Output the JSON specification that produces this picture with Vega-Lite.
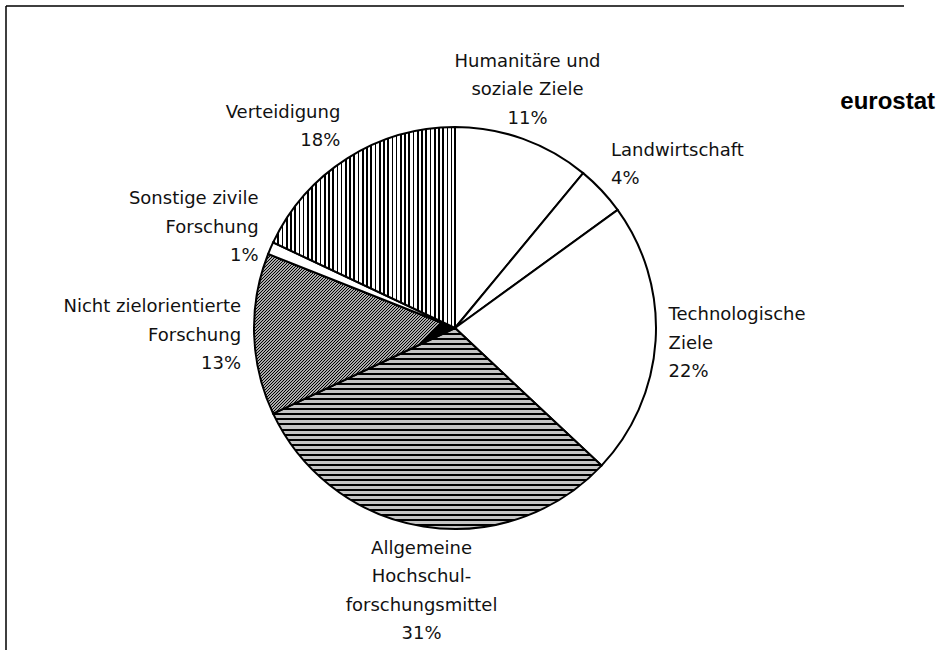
{
  "$schema": "https://vega.github.io/schema/vega-lite/v6.json",
  "width": 898,
  "height": 644,
  "autosize": "none",
  "padding": {"left": 6, "top": 6, "right": 40, "bottom": 13},
  "background": "#ffffff",
  "view": {"stroke": "#000000", "strokeWidth": 1.5, "strokeDash": [898, 1542, 644, 0]},
  "title": {
    "text": "eurostat",
    "anchor": "end",
    "frame": "group",
    "orient": "top",
    "offset": -127,
    "baseline": "alphabetic",
    "dx": 31,
    "font": "Liberation Sans",
    "fontSize": 24,
    "fontWeight": "bold",
    "color": "#000000"
  },
  "data": {
    "values": [
      {"Nr": 1, "Ziel": "Humanitäre und soziale Ziele", "Anteil": 11, "Beschriftung": "Humanitäre und\nsoziale Ziele\n11%"},
      {"Nr": 2, "Ziel": "Landwirtschaft", "Anteil": 4, "Beschriftung": "Landwirtschaft\n4%"},
      {"Nr": 3, "Ziel": "Technologische Ziele", "Anteil": 22, "Beschriftung": "Technologische\nZiele\n22%"},
      {"Nr": 4, "Ziel": "Allgemeine Hochschulforschungsmittel", "Anteil": 31, "Beschriftung": "Allgemeine\nHochschul-\nforschungsmittel\n31%"},
      {"Nr": 5, "Ziel": "Nicht zielorientierte Forschung", "Anteil": 13, "Beschriftung": "Nicht zielorientierte\nForschung\n13%"},
      {"Nr": 6, "Ziel": "Sonstige zivile Forschung", "Anteil": 1, "Beschriftung": "Sonstige zivile\nForschung\n1%"},
      {"Nr": 7, "Ziel": "Verteidigung", "Anteil": 18, "Beschriftung": "Verteidigung\n18%"}
    ]
  },
  "encoding": {
    "theta": {"field": "Anteil", "type": "quantitative", "stack": true},
    "order": {"field": "Nr", "type": "quantitative"}
  },
  "layer": [
    {
      "mark": {"type": "arc", "outerRadius": 201, "stroke": "#000000", "strokeWidth": 2},
      "encoding": {
        "fill": {
          "condition": [
            {"test": "datum.Ziel === 'Verteidigung'", "value": {"gradient": "linear", "x1": 0, "y1": 0, "x2": 1, "y2": 0, "stops": [
              {"offset": 0, "color": "#000"}, {"offset": 0.0093, "color": "#000"}, {"offset": 0.0093, "color": "#fff"}, {"offset": 0.02326, "color": "#fff"},
              {"offset": 0.02326, "color": "#000"}, {"offset": 0.03256, "color": "#000"}, {"offset": 0.03256, "color": "#fff"}, {"offset": 0.04651, "color": "#fff"},
              {"offset": 0.04651, "color": "#000"}, {"offset": 0.05581, "color": "#000"}, {"offset": 0.05581, "color": "#fff"}, {"offset": 0.06977, "color": "#fff"},
              {"offset": 0.06977, "color": "#000"}, {"offset": 0.07907, "color": "#000"}, {"offset": 0.07907, "color": "#fff"}, {"offset": 0.09302, "color": "#fff"},
              {"offset": 0.09302, "color": "#000"}, {"offset": 0.10232, "color": "#000"}, {"offset": 0.10232, "color": "#fff"}, {"offset": 0.11628, "color": "#fff"},
              {"offset": 0.11628, "color": "#000"}, {"offset": 0.12558, "color": "#000"}, {"offset": 0.12558, "color": "#fff"}, {"offset": 0.13953, "color": "#fff"},
              {"offset": 0.13953, "color": "#000"}, {"offset": 0.14883, "color": "#000"}, {"offset": 0.14883, "color": "#fff"}, {"offset": 0.16279, "color": "#fff"},
              {"offset": 0.16279, "color": "#000"}, {"offset": 0.17209, "color": "#000"}, {"offset": 0.17209, "color": "#fff"}, {"offset": 0.18605, "color": "#fff"},
              {"offset": 0.18605, "color": "#000"}, {"offset": 0.19535, "color": "#000"}, {"offset": 0.19535, "color": "#fff"}, {"offset": 0.2093, "color": "#fff"},
              {"offset": 0.2093, "color": "#000"}, {"offset": 0.2186, "color": "#000"}, {"offset": 0.2186, "color": "#fff"}, {"offset": 0.23256, "color": "#fff"},
              {"offset": 0.23256, "color": "#000"}, {"offset": 0.24186, "color": "#000"}, {"offset": 0.24186, "color": "#fff"}, {"offset": 0.25581, "color": "#fff"},
              {"offset": 0.25581, "color": "#000"}, {"offset": 0.26511, "color": "#000"}, {"offset": 0.26511, "color": "#fff"}, {"offset": 0.27907, "color": "#fff"},
              {"offset": 0.27907, "color": "#000"}, {"offset": 0.28837, "color": "#000"}, {"offset": 0.28837, "color": "#fff"}, {"offset": 0.30233, "color": "#fff"},
              {"offset": 0.30233, "color": "#000"}, {"offset": 0.31163, "color": "#000"}, {"offset": 0.31163, "color": "#fff"}, {"offset": 0.32558, "color": "#fff"},
              {"offset": 0.32558, "color": "#000"}, {"offset": 0.33488, "color": "#000"}, {"offset": 0.33488, "color": "#fff"}, {"offset": 0.34884, "color": "#fff"},
              {"offset": 0.34884, "color": "#000"}, {"offset": 0.35814, "color": "#000"}, {"offset": 0.35814, "color": "#fff"}, {"offset": 0.37209, "color": "#fff"},
              {"offset": 0.37209, "color": "#000"}, {"offset": 0.38139, "color": "#000"}, {"offset": 0.38139, "color": "#fff"}, {"offset": 0.39535, "color": "#fff"},
              {"offset": 0.39535, "color": "#000"}, {"offset": 0.40465, "color": "#000"}, {"offset": 0.40465, "color": "#fff"}, {"offset": 0.4186, "color": "#fff"},
              {"offset": 0.4186, "color": "#000"}, {"offset": 0.4279, "color": "#000"}, {"offset": 0.4279, "color": "#fff"}, {"offset": 0.44186, "color": "#fff"},
              {"offset": 0.44186, "color": "#000"}, {"offset": 0.45116, "color": "#000"}, {"offset": 0.45116, "color": "#fff"}, {"offset": 0.46512, "color": "#fff"},
              {"offset": 0.46512, "color": "#000"}, {"offset": 0.47442, "color": "#000"}, {"offset": 0.47442, "color": "#fff"}, {"offset": 0.48837, "color": "#fff"},
              {"offset": 0.48837, "color": "#000"}, {"offset": 0.49767, "color": "#000"}, {"offset": 0.49767, "color": "#fff"}, {"offset": 0.51163, "color": "#fff"},
              {"offset": 0.51163, "color": "#000"}, {"offset": 0.52093, "color": "#000"}, {"offset": 0.52093, "color": "#fff"}, {"offset": 0.53488, "color": "#fff"},
              {"offset": 0.53488, "color": "#000"}, {"offset": 0.54418, "color": "#000"}, {"offset": 0.54418, "color": "#fff"}, {"offset": 0.55814, "color": "#fff"},
              {"offset": 0.55814, "color": "#000"}, {"offset": 0.56744, "color": "#000"}, {"offset": 0.56744, "color": "#fff"}, {"offset": 0.5814, "color": "#fff"},
              {"offset": 0.5814, "color": "#000"}, {"offset": 0.5907, "color": "#000"}, {"offset": 0.5907, "color": "#fff"}, {"offset": 0.60465, "color": "#fff"},
              {"offset": 0.60465, "color": "#000"}, {"offset": 0.61395, "color": "#000"}, {"offset": 0.61395, "color": "#fff"}, {"offset": 0.62791, "color": "#fff"},
              {"offset": 0.62791, "color": "#000"}, {"offset": 0.63721, "color": "#000"}, {"offset": 0.63721, "color": "#fff"}, {"offset": 0.65116, "color": "#fff"},
              {"offset": 0.65116, "color": "#000"}, {"offset": 0.66046, "color": "#000"}, {"offset": 0.66046, "color": "#fff"}, {"offset": 0.67442, "color": "#fff"},
              {"offset": 0.67442, "color": "#000"}, {"offset": 0.68372, "color": "#000"}, {"offset": 0.68372, "color": "#fff"}, {"offset": 0.69767, "color": "#fff"},
              {"offset": 0.69767, "color": "#000"}, {"offset": 0.70697, "color": "#000"}, {"offset": 0.70697, "color": "#fff"}, {"offset": 0.72093, "color": "#fff"},
              {"offset": 0.72093, "color": "#000"}, {"offset": 0.73023, "color": "#000"}, {"offset": 0.73023, "color": "#fff"}, {"offset": 0.74419, "color": "#fff"},
              {"offset": 0.74419, "color": "#000"}, {"offset": 0.75349, "color": "#000"}, {"offset": 0.75349, "color": "#fff"}, {"offset": 0.76744, "color": "#fff"},
              {"offset": 0.76744, "color": "#000"}, {"offset": 0.77674, "color": "#000"}, {"offset": 0.77674, "color": "#fff"}, {"offset": 0.7907, "color": "#fff"},
              {"offset": 0.7907, "color": "#000"}, {"offset": 0.8, "color": "#000"}, {"offset": 0.8, "color": "#fff"}, {"offset": 0.81395, "color": "#fff"},
              {"offset": 0.81395, "color": "#000"}, {"offset": 0.82325, "color": "#000"}, {"offset": 0.82325, "color": "#fff"}, {"offset": 0.83721, "color": "#fff"},
              {"offset": 0.83721, "color": "#000"}, {"offset": 0.84651, "color": "#000"}, {"offset": 0.84651, "color": "#fff"}, {"offset": 0.86047, "color": "#fff"},
              {"offset": 0.86047, "color": "#000"}, {"offset": 0.86977, "color": "#000"}, {"offset": 0.86977, "color": "#fff"}, {"offset": 0.88372, "color": "#fff"},
              {"offset": 0.88372, "color": "#000"}, {"offset": 0.89302, "color": "#000"}, {"offset": 0.89302, "color": "#fff"}, {"offset": 0.90698, "color": "#fff"},
              {"offset": 0.90698, "color": "#000"}, {"offset": 0.91628, "color": "#000"}, {"offset": 0.91628, "color": "#fff"}, {"offset": 0.93023, "color": "#fff"},
              {"offset": 0.93023, "color": "#000"}, {"offset": 0.93953, "color": "#000"}, {"offset": 0.93953, "color": "#fff"}, {"offset": 0.95349, "color": "#fff"},
              {"offset": 0.95349, "color": "#000"}, {"offset": 0.96279, "color": "#000"}, {"offset": 0.96279, "color": "#fff"}, {"offset": 0.97674, "color": "#fff"},
              {"offset": 0.97674, "color": "#000"}, {"offset": 0.98604, "color": "#000"}, {"offset": 0.98604, "color": "#fff"}, {"offset": 1, "color": "#fff"}
            ]}},
            {"test": "datum.Ziel === 'Allgemeine Hochschulforschungsmittel'", "value": {"gradient": "linear", "x1": 0, "y1": 0, "x2": 0, "y2": 1, "stops": [
              {"offset": 0, "color": "#000"}, {"offset": 0.01, "color": "#000"}, {"offset": 0.01, "color": "#c4c4c4"}, {"offset": 0.025, "color": "#c4c4c4"},
              {"offset": 0.025, "color": "#000"}, {"offset": 0.035, "color": "#000"}, {"offset": 0.035, "color": "#c4c4c4"}, {"offset": 0.05, "color": "#c4c4c4"},
              {"offset": 0.05, "color": "#000"}, {"offset": 0.06, "color": "#000"}, {"offset": 0.06, "color": "#c4c4c4"}, {"offset": 0.075, "color": "#c4c4c4"},
              {"offset": 0.075, "color": "#000"}, {"offset": 0.085, "color": "#000"}, {"offset": 0.085, "color": "#c4c4c4"}, {"offset": 0.1, "color": "#c4c4c4"},
              {"offset": 0.1, "color": "#000"}, {"offset": 0.11, "color": "#000"}, {"offset": 0.11, "color": "#c4c4c4"}, {"offset": 0.125, "color": "#c4c4c4"},
              {"offset": 0.125, "color": "#000"}, {"offset": 0.135, "color": "#000"}, {"offset": 0.135, "color": "#c4c4c4"}, {"offset": 0.15, "color": "#c4c4c4"},
              {"offset": 0.15, "color": "#000"}, {"offset": 0.16, "color": "#000"}, {"offset": 0.16, "color": "#c4c4c4"}, {"offset": 0.175, "color": "#c4c4c4"},
              {"offset": 0.175, "color": "#000"}, {"offset": 0.185, "color": "#000"}, {"offset": 0.185, "color": "#c4c4c4"}, {"offset": 0.2, "color": "#c4c4c4"},
              {"offset": 0.2, "color": "#000"}, {"offset": 0.21, "color": "#000"}, {"offset": 0.21, "color": "#c4c4c4"}, {"offset": 0.225, "color": "#c4c4c4"},
              {"offset": 0.225, "color": "#000"}, {"offset": 0.235, "color": "#000"}, {"offset": 0.235, "color": "#c4c4c4"}, {"offset": 0.25, "color": "#c4c4c4"},
              {"offset": 0.25, "color": "#000"}, {"offset": 0.26, "color": "#000"}, {"offset": 0.26, "color": "#c4c4c4"}, {"offset": 0.275, "color": "#c4c4c4"},
              {"offset": 0.275, "color": "#000"}, {"offset": 0.285, "color": "#000"}, {"offset": 0.285, "color": "#c4c4c4"}, {"offset": 0.3, "color": "#c4c4c4"},
              {"offset": 0.3, "color": "#000"}, {"offset": 0.31, "color": "#000"}, {"offset": 0.31, "color": "#c4c4c4"}, {"offset": 0.325, "color": "#c4c4c4"},
              {"offset": 0.325, "color": "#000"}, {"offset": 0.335, "color": "#000"}, {"offset": 0.335, "color": "#c4c4c4"}, {"offset": 0.35, "color": "#c4c4c4"},
              {"offset": 0.35, "color": "#000"}, {"offset": 0.36, "color": "#000"}, {"offset": 0.36, "color": "#c4c4c4"}, {"offset": 0.375, "color": "#c4c4c4"},
              {"offset": 0.375, "color": "#000"}, {"offset": 0.385, "color": "#000"}, {"offset": 0.385, "color": "#c4c4c4"}, {"offset": 0.4, "color": "#c4c4c4"},
              {"offset": 0.4, "color": "#000"}, {"offset": 0.41, "color": "#000"}, {"offset": 0.41, "color": "#c4c4c4"}, {"offset": 0.425, "color": "#c4c4c4"},
              {"offset": 0.425, "color": "#000"}, {"offset": 0.435, "color": "#000"}, {"offset": 0.435, "color": "#c4c4c4"}, {"offset": 0.45, "color": "#c4c4c4"},
              {"offset": 0.45, "color": "#000"}, {"offset": 0.46, "color": "#000"}, {"offset": 0.46, "color": "#c4c4c4"}, {"offset": 0.475, "color": "#c4c4c4"},
              {"offset": 0.475, "color": "#000"}, {"offset": 0.485, "color": "#000"}, {"offset": 0.485, "color": "#c4c4c4"}, {"offset": 0.5, "color": "#c4c4c4"},
              {"offset": 0.5, "color": "#000"}, {"offset": 0.51, "color": "#000"}, {"offset": 0.51, "color": "#c4c4c4"}, {"offset": 0.525, "color": "#c4c4c4"},
              {"offset": 0.525, "color": "#000"}, {"offset": 0.535, "color": "#000"}, {"offset": 0.535, "color": "#c4c4c4"}, {"offset": 0.55, "color": "#c4c4c4"},
              {"offset": 0.55, "color": "#000"}, {"offset": 0.56, "color": "#000"}, {"offset": 0.56, "color": "#c4c4c4"}, {"offset": 0.575, "color": "#c4c4c4"},
              {"offset": 0.575, "color": "#000"}, {"offset": 0.585, "color": "#000"}, {"offset": 0.585, "color": "#c4c4c4"}, {"offset": 0.6, "color": "#c4c4c4"},
              {"offset": 0.6, "color": "#000"}, {"offset": 0.61, "color": "#000"}, {"offset": 0.61, "color": "#c4c4c4"}, {"offset": 0.625, "color": "#c4c4c4"},
              {"offset": 0.625, "color": "#000"}, {"offset": 0.635, "color": "#000"}, {"offset": 0.635, "color": "#c4c4c4"}, {"offset": 0.65, "color": "#c4c4c4"},
              {"offset": 0.65, "color": "#000"}, {"offset": 0.66, "color": "#000"}, {"offset": 0.66, "color": "#c4c4c4"}, {"offset": 0.675, "color": "#c4c4c4"},
              {"offset": 0.675, "color": "#000"}, {"offset": 0.685, "color": "#000"}, {"offset": 0.685, "color": "#c4c4c4"}, {"offset": 0.7, "color": "#c4c4c4"},
              {"offset": 0.7, "color": "#000"}, {"offset": 0.71, "color": "#000"}, {"offset": 0.71, "color": "#c4c4c4"}, {"offset": 0.725, "color": "#c4c4c4"},
              {"offset": 0.725, "color": "#000"}, {"offset": 0.735, "color": "#000"}, {"offset": 0.735, "color": "#c4c4c4"}, {"offset": 0.75, "color": "#c4c4c4"},
              {"offset": 0.75, "color": "#000"}, {"offset": 0.76, "color": "#000"}, {"offset": 0.76, "color": "#c4c4c4"}, {"offset": 0.775, "color": "#c4c4c4"},
              {"offset": 0.775, "color": "#000"}, {"offset": 0.785, "color": "#000"}, {"offset": 0.785, "color": "#c4c4c4"}, {"offset": 0.8, "color": "#c4c4c4"},
              {"offset": 0.8, "color": "#000"}, {"offset": 0.81, "color": "#000"}, {"offset": 0.81, "color": "#c4c4c4"}, {"offset": 0.825, "color": "#c4c4c4"},
              {"offset": 0.825, "color": "#000"}, {"offset": 0.835, "color": "#000"}, {"offset": 0.835, "color": "#c4c4c4"}, {"offset": 0.85, "color": "#c4c4c4"},
              {"offset": 0.85, "color": "#000"}, {"offset": 0.86, "color": "#000"}, {"offset": 0.86, "color": "#c4c4c4"}, {"offset": 0.875, "color": "#c4c4c4"},
              {"offset": 0.875, "color": "#000"}, {"offset": 0.885, "color": "#000"}, {"offset": 0.885, "color": "#c4c4c4"}, {"offset": 0.9, "color": "#c4c4c4"},
              {"offset": 0.9, "color": "#000"}, {"offset": 0.91, "color": "#000"}, {"offset": 0.91, "color": "#c4c4c4"}, {"offset": 0.925, "color": "#c4c4c4"},
              {"offset": 0.925, "color": "#000"}, {"offset": 0.935, "color": "#000"}, {"offset": 0.935, "color": "#c4c4c4"}, {"offset": 0.95, "color": "#c4c4c4"},
              {"offset": 0.95, "color": "#000"}, {"offset": 0.96, "color": "#000"}, {"offset": 0.96, "color": "#c4c4c4"}, {"offset": 0.975, "color": "#c4c4c4"},
              {"offset": 0.975, "color": "#000"}, {"offset": 0.985, "color": "#000"}, {"offset": 0.985, "color": "#c4c4c4"}, {"offset": 1, "color": "#c4c4c4"}
            ]}},
            {"test": "datum.Ziel === 'Nicht zielorientierte Forschung'", "value": {"gradient": "linear", "x1": 0, "y1": 0, "x2": 0.9155, "y2": 0.7269, "stops": [
              {"offset": 0.04, "color": "#000"}, {"offset": 0.045, "color": "#fff"}, {"offset": 0.05, "color": "#000"}, {"offset": 0.055, "color": "#fff"},
              {"offset": 0.06, "color": "#000"}, {"offset": 0.065, "color": "#fff"}, {"offset": 0.07, "color": "#000"}, {"offset": 0.075, "color": "#fff"},
              {"offset": 0.08, "color": "#000"}, {"offset": 0.085, "color": "#fff"}, {"offset": 0.09, "color": "#000"}, {"offset": 0.095, "color": "#fff"},
              {"offset": 0.1, "color": "#000"}, {"offset": 0.105, "color": "#fff"}, {"offset": 0.11, "color": "#000"}, {"offset": 0.115, "color": "#fff"},
              {"offset": 0.12, "color": "#000"}, {"offset": 0.125, "color": "#fff"}, {"offset": 0.13, "color": "#000"}, {"offset": 0.135, "color": "#fff"},
              {"offset": 0.14, "color": "#000"}, {"offset": 0.145, "color": "#fff"}, {"offset": 0.15, "color": "#000"}, {"offset": 0.155, "color": "#fff"},
              {"offset": 0.16, "color": "#000"}, {"offset": 0.165, "color": "#fff"}, {"offset": 0.17, "color": "#000"}, {"offset": 0.175, "color": "#fff"},
              {"offset": 0.18, "color": "#000"}, {"offset": 0.185, "color": "#fff"}, {"offset": 0.19, "color": "#000"}, {"offset": 0.195, "color": "#fff"},
              {"offset": 0.2, "color": "#000"}, {"offset": 0.205, "color": "#fff"}, {"offset": 0.21, "color": "#000"}, {"offset": 0.215, "color": "#fff"},
              {"offset": 0.22, "color": "#000"}, {"offset": 0.225, "color": "#fff"}, {"offset": 0.23, "color": "#000"}, {"offset": 0.235, "color": "#fff"},
              {"offset": 0.24, "color": "#000"}, {"offset": 0.245, "color": "#fff"}, {"offset": 0.25, "color": "#000"}, {"offset": 0.255, "color": "#fff"},
              {"offset": 0.26, "color": "#000"}, {"offset": 0.265, "color": "#fff"}, {"offset": 0.27, "color": "#000"}, {"offset": 0.275, "color": "#fff"},
              {"offset": 0.28, "color": "#000"}, {"offset": 0.285, "color": "#fff"}, {"offset": 0.29, "color": "#000"}, {"offset": 0.295, "color": "#fff"},
              {"offset": 0.3, "color": "#000"}, {"offset": 0.305, "color": "#fff"}, {"offset": 0.31, "color": "#000"}, {"offset": 0.315, "color": "#fff"},
              {"offset": 0.32, "color": "#000"}, {"offset": 0.325, "color": "#fff"}, {"offset": 0.33, "color": "#000"}, {"offset": 0.335, "color": "#fff"},
              {"offset": 0.34, "color": "#000"}, {"offset": 0.345, "color": "#fff"}, {"offset": 0.35, "color": "#000"}, {"offset": 0.355, "color": "#fff"},
              {"offset": 0.36, "color": "#000"}, {"offset": 0.365, "color": "#fff"}, {"offset": 0.37, "color": "#000"}, {"offset": 0.375, "color": "#fff"},
              {"offset": 0.38, "color": "#000"}, {"offset": 0.385, "color": "#fff"}, {"offset": 0.39, "color": "#000"}, {"offset": 0.395, "color": "#fff"},
              {"offset": 0.4, "color": "#000"}, {"offset": 0.405, "color": "#fff"}, {"offset": 0.41, "color": "#000"}, {"offset": 0.415, "color": "#fff"},
              {"offset": 0.42, "color": "#000"}, {"offset": 0.425, "color": "#fff"}, {"offset": 0.43, "color": "#000"}, {"offset": 0.435, "color": "#fff"},
              {"offset": 0.44, "color": "#000"}, {"offset": 0.445, "color": "#fff"}, {"offset": 0.45, "color": "#000"}, {"offset": 0.455, "color": "#fff"},
              {"offset": 0.46, "color": "#000"}, {"offset": 0.465, "color": "#fff"}, {"offset": 0.47, "color": "#000"}, {"offset": 0.475, "color": "#fff"},
              {"offset": 0.48, "color": "#000"}, {"offset": 0.485, "color": "#fff"}, {"offset": 0.49, "color": "#000"}, {"offset": 0.495, "color": "#fff"},
              {"offset": 0.5, "color": "#000"}, {"offset": 0.505, "color": "#fff"}, {"offset": 0.51, "color": "#000"}, {"offset": 0.515, "color": "#fff"},
              {"offset": 0.52, "color": "#000"}, {"offset": 0.525, "color": "#fff"}, {"offset": 0.53, "color": "#000"}, {"offset": 0.535, "color": "#fff"},
              {"offset": 0.54, "color": "#000"}, {"offset": 0.545, "color": "#fff"}, {"offset": 0.55, "color": "#000"}, {"offset": 0.555, "color": "#fff"},
              {"offset": 0.56, "color": "#000"}, {"offset": 0.565, "color": "#fff"}, {"offset": 0.57, "color": "#000"}, {"offset": 0.575, "color": "#fff"},
              {"offset": 0.58, "color": "#000"}, {"offset": 0.585, "color": "#fff"}, {"offset": 0.59, "color": "#000"}, {"offset": 0.595, "color": "#fff"},
              {"offset": 0.6, "color": "#000"}, {"offset": 0.605, "color": "#fff"}, {"offset": 0.61, "color": "#000"}, {"offset": 0.615, "color": "#fff"},
              {"offset": 0.62, "color": "#000"}, {"offset": 0.625, "color": "#fff"}, {"offset": 0.63, "color": "#000"}, {"offset": 0.635, "color": "#fff"},
              {"offset": 0.64, "color": "#000"}, {"offset": 0.645, "color": "#fff"}, {"offset": 0.65, "color": "#000"}, {"offset": 0.655, "color": "#fff"},
              {"offset": 0.66, "color": "#000"}, {"offset": 0.665, "color": "#fff"}, {"offset": 0.67, "color": "#000"}, {"offset": 0.675, "color": "#fff"},
              {"offset": 0.68, "color": "#000"}, {"offset": 0.685, "color": "#fff"}, {"offset": 0.69, "color": "#000"}, {"offset": 0.695, "color": "#fff"},
              {"offset": 0.7, "color": "#000"}, {"offset": 0.705, "color": "#fff"}, {"offset": 0.71, "color": "#000"}, {"offset": 0.715, "color": "#fff"},
              {"offset": 0.72, "color": "#000"}, {"offset": 0.725, "color": "#fff"}, {"offset": 0.73, "color": "#000"}, {"offset": 0.735, "color": "#fff"},
              {"offset": 0.74, "color": "#000"}, {"offset": 0.745, "color": "#fff"}, {"offset": 0.75, "color": "#000"}, {"offset": 0.755, "color": "#fff"},
              {"offset": 0.76, "color": "#000"}, {"offset": 0.765, "color": "#fff"}, {"offset": 0.77, "color": "#000"}, {"offset": 0.775, "color": "#fff"},
              {"offset": 0.78, "color": "#000"}, {"offset": 0.785, "color": "#fff"}, {"offset": 0.79, "color": "#000"}, {"offset": 0.795, "color": "#fff"},
              {"offset": 0.8, "color": "#000"}, {"offset": 0.805, "color": "#fff"}, {"offset": 0.81, "color": "#000"}, {"offset": 0.815, "color": "#fff"},
              {"offset": 0.82, "color": "#000"}, {"offset": 0.825, "color": "#fff"}, {"offset": 0.83, "color": "#000"}, {"offset": 0.835, "color": "#fff"},
              {"offset": 0.84, "color": "#000"}, {"offset": 0.845, "color": "#fff"}, {"offset": 0.85, "color": "#000"}
            ]}}
          ],
          "value": "#ffffff"
        }
      }
    },
    {
      "mark": {
        "type": "text",
        "radius": 214,
        "font": "DejaVu Sans",
        "fontSize": 18,
        "lineHeight": 28.5,
        "lineBreak": "\n",
        "color": "#111111",
        "baseline": "middle",
        "align": {"expr": "sin(PI*(datum.Anteil_start+datum.Anteil_end)/100) > 0.5 ? 'left' : (sin(PI*(datum.Anteil_start+datum.Anteil_end)/100) < -0.5 ? 'right' : 'center')"},
        "dy": {"expr": "-cos(PI*(datum.Anteil_start+datum.Anteil_end)/100)*((length(split(datum.Beschriftung, '\\n'))-1)*28.5+20)/2 - (length(split(datum.Beschriftung, '\\n'))-1)*14.25"}
      },
      "encoding": {
        "text": {"field": "Beschriftung", "type": "nominal"}
      }
    }
  ]
}
